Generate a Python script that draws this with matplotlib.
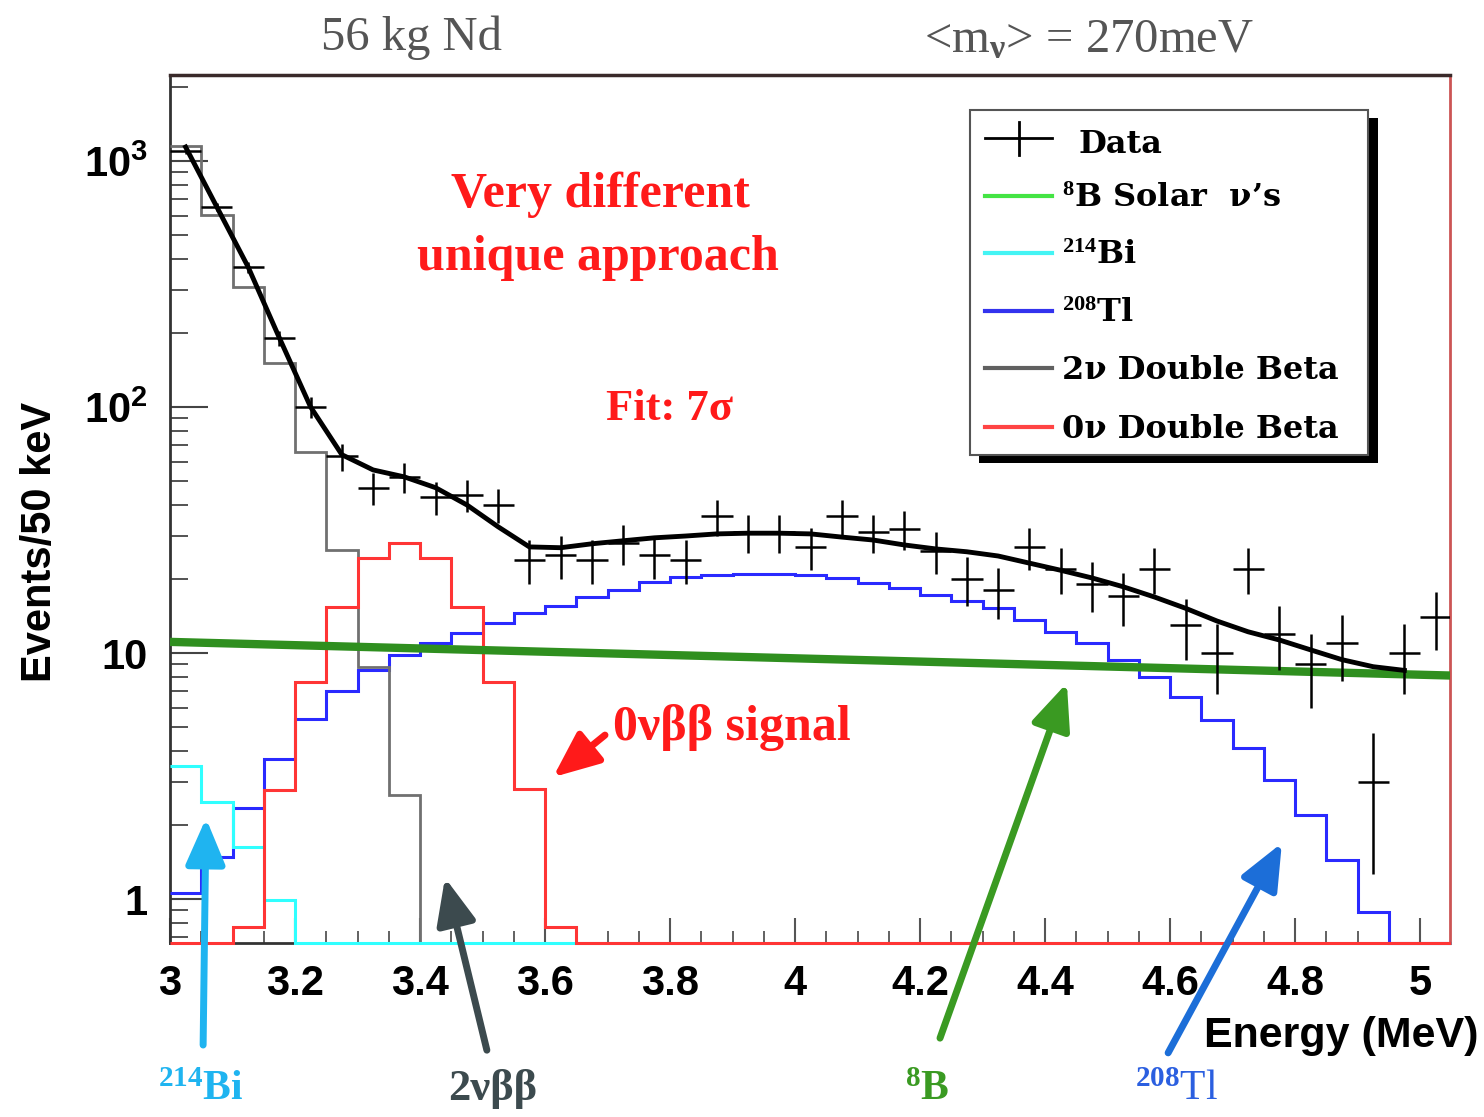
import numpy as np
import matplotlib
matplotlib.use("Agg")
import matplotlib.pyplot as plt
from matplotlib.patches import Rectangle
from matplotlib.lines import Line2D
from matplotlib.ticker import FixedLocator, MultipleLocator, LogLocator, FuncFormatter, NullFormatter

plt.rcParams["font.family"] = ["Liberation Sans", "DejaVu Sans"]
plt.rcParams["font.weight"] = "bold"
plt.rcParams["mathtext.fontset"] = "custom"
plt.rcParams["mathtext.rm"] = "Liberation Serif"
plt.rcParams["mathtext.it"] = "Liberation Serif:italic"
plt.rcParams["mathtext.bf"] = "Liberation Serif:bold"
plt.rcParams["mathtext.sf"] = "Liberation Sans:bold"

# ---- binning: 50 keV bins from 3.00 to 5.05 MeV ----
E_MIN = 3.0
BIN_W = 0.05
N_BINS = 41
edges = E_MIN + BIN_W * np.arange(N_BINS + 1)
centers = edges[:-1] + BIN_W / 2

# ---- observed spectrum (events / 50 keV) ----
data_counts = [1100, 650, 370, 190, 100, 63, 47, 52, 43, 44,
               40, 24, 25, 24, 28, 25, 24, 36, 31, 31,
               27, 36, 31, 32, 26, 20, 18, 27, 22, 19,
               17, 22, 13, 10, 22, 12, 9, 11, 3, 10, 14]

# ---- total fit, evaluated at bin centres ----
fit_total = [1140, 650, 371, 191, 100, 64, 55.5, 52, 47, 40,
             32.6, 27, 26.8, 27.8, 28.6, 29.4, 29.9, 30.5, 30.7, 30.7,
             30.5, 29.6, 28.8, 27.5, 26.5, 25.8, 24.8, 23.2, 21.7, 20.2,
             18.6, 16.9, 15.2, 13.5, 12.2, 11.3, 10.3, 9.4, 8.8, 8.5]

# ---- background and signal components ----
tl208 = [1.06, 1.48, 2.34, 3.71, 5.39, 7.0, 8.5, 9.8, 11.0, 12.1,
         13.2, 14.5, 15.6, 16.9, 18.0, 19.4, 20.4, 20.7, 21.0, 21.0,
         20.7, 20.2, 19.3, 18.4, 17.2, 16.3, 15.2, 13.6, 12.2, 11.0,
         9.4, 8.0, 6.6, 5.34, 4.11, 3.05, 2.19, 1.44, 0.885, 0, 0]

bi214 = [3.47, 2.48, 1.63, 0.99, 0, 0, 0, 0, 0, 0,
         0, 0, 0, 0, 0, 0, 0, 0, 0, 0,
         0, 0, 0, 0, 0, 0, 0, 0, 0, 0,
         0, 0, 0, 0, 0, 0, 0, 0, 0, 0, 0]

two_nu = [1150, 603, 307, 151, 65.5, 26.2, 8.8, 2.65, 0, 0,
          0, 0, 0, 0, 0, 0, 0, 0, 0, 0,
          0, 0, 0, 0, 0, 0, 0, 0, 0, 0,
          0, 0, 0, 0, 0, 0, 0, 0, 0, 0, 0]

zero_nu = [0, 0, 0.77, 2.77, 7.6, 15.4, 24.4, 28.0, 24.4, 15.4,
           7.6, 2.8, 0.77, 0, 0, 0, 0, 0, 0, 0,
           0, 0, 0, 0, 0, 0, 0, 0, 0, 0,
           0, 0, 0, 0, 0, 0, 0, 0, 0, 0, 0]

b8_energy = [3.0, 5.05]
b8_rate = [11.1, 8.1]

x_ticks = [3.0, 3.2, 3.4, 3.6, 3.8, 4.0, 4.2, 4.4, 4.6, 4.8, 5.0]
x_tick_labels = ["3", "3.2", "3.4", "3.6", "3.8", "4", "4.2", "4.4", "4.6", "4.8", "5"]
y_tick_labels = {1: "1", 10: "10", 100: r"$\mathsf{10^{2}}$", 1000: r"$\mathsf{10^{3}}$"}

Y_LO, Y_HI = 0.6627, 2237.0
X_LO, X_HI = 3.0, 5.048

# ---- figure ----
W, H = 1484, 1117
fig = plt.figure(figsize=(W / 100, H / 100), dpi=100)
AX_L, AX_R, AX_T, AX_B = 170, 1450, 75, 943
ax = fig.add_axes([AX_L / W, 1 - AX_B / H, (AX_R - AX_L) / W, (AX_B - AX_T) / H])
ax.set_yscale("log")
ax.set_xlim(X_LO, X_HI)
ax.set_ylim(Y_LO, Y_HI)


def fig_xy(px, py):
    return px / W, 1 - py / H


def ax_xy(px, py):
    return (px - AX_L) / (AX_R - AX_L), (AX_B - py) / (AX_B - AX_T)


def hist(values, color, lw, z):
    v = np.maximum(np.asarray(values, float), Y_LO)
    ax.stairs(v, edges, baseline=None, color=color, lw=lw, zorder=z, clip_on=False)


hist(tl208, "#2a2aff", 2.2, 3)
hist(two_nu, "#707070", 2.0, 3.1)
hist(bi214, "#30ffff", 2.2, 3.2)
hist(zero_nu, "#ff3535", 2.2, 3.3)

ax.plot(b8_energy, b8_rate, color="#2f8f1f", lw=6, zorder=4, solid_capstyle="butt")
ax.plot(centers[:len(fit_total)], fit_total, color="black", lw=3.5, zorder=5)
ax.errorbar(centers, data_counts, xerr=BIN_W / 2, yerr=np.sqrt(data_counts),
            fmt="none", ecolor="black", elinewidth=1.8, capsize=0, zorder=6)

# ---- axes styling ----
ax.spines["left"].set_color("#333333")
ax.spines["left"].set_linewidth(2)
ax.spines["bottom"].set_color("#333333")
ax.spines["bottom"].set_linewidth(2)
ax.spines["top"].set_color("#3a2a2a")
ax.spines["top"].set_linewidth(2.5)
ax.spines["right"].set_color("#cc5555")
ax.spines["right"].set_linewidth(2)

ax.xaxis.set_major_locator(FixedLocator(x_ticks))
ax.set_xticklabels(x_tick_labels)
ax.xaxis.set_minor_locator(MultipleLocator(0.05))
ax.yaxis.set_major_locator(LogLocator(base=10))
ax.yaxis.set_minor_locator(LogLocator(base=10, subs=np.arange(2, 10)))
ax.yaxis.set_major_formatter(FuncFormatter(lambda v, p: y_tick_labels.get(int(round(v)), "")))
ax.yaxis.set_minor_formatter(NullFormatter())

ax.tick_params(axis="x", which="major", direction="in", length=18, width=1.5,
               color="#555555", pad=15, labelsize=30)
ax.tick_params(axis="x", which="minor", direction="in", length=9, width=1.3, color="#555555")
ax.tick_params(axis="y", which="major", direction="in", length=27, width=1.5,
               color="#444444", pad=16, labelsize=30)
ax.tick_params(axis="y", which="minor", direction="in", length=13, width=1.3, color="#444444")
ax.tick_params(top=False, right=False, which="both")

fig.text(*fig_xy(40, 542), "Events/50 keV", rotation=90, ha="center", va="center",
         fontsize=30, fontweight="bold")
fig.text(*fig_xy(1478, 1036), "Energy (MeV)", ha="right", va="center",
         fontsize=31, fontweight="bold")

# ---- header ----
fig.text(*fig_xy(411, 50), "56 kg Nd", ha="center", va="baseline", fontsize=35,
         family="Liberation Serif", fontweight="normal", color="#555555")
fig.text(*fig_xy(1089, 52), r"<m$_{\mathrm{\nu}}$> = 270meV", ha="center", va="baseline",
         fontsize=35, family="Liberation Serif", fontweight="normal", color="#555555")

# ---- red annotations ----
red = "#ff1a1a"
fig.text(*fig_xy(600, 207), "Very different", ha="center", va="baseline", fontsize=36,
         family="Liberation Serif", fontweight="bold", color=red)
fig.text(*fig_xy(598, 270), "unique approach", ha="center", va="baseline", fontsize=36,
         family="Liberation Serif", fontweight="bold", color=red)
fig.text(*fig_xy(669, 420), "Fit: 7σ", ha="center", va="baseline", fontsize=32,
         family="Liberation Serif", fontweight="bold", color=red)
fig.text(*fig_xy(613, 740), "0νββ signal", ha="left", va="baseline", fontsize=36,
         family="Liberation Serif", fontweight="bold", color=red)


def arrow(head, tail, color):
    ax.annotate("", xy=head, xytext=tail, xycoords="data", textcoords="data",
                annotation_clip=False, zorder=8,
                arrowprops=dict(arrowstyle="-|>,head_length=1.4,head_width=0.6",
                                mutation_scale=20, lw=5, color=color,
                                shrinkA=0, shrinkB=0))


arrow((3.613, 3.13), (3.696, 4.64), red)
arrow((3.0576, 2.13), (3.053, 0.255), "#1fb4f0")
arrow((3.44, 1.22), (3.507, 0.243), "#3c4a4e")
arrow((4.435, 7.55), (4.232, 0.272), "#3a9a22")
arrow((4.779, 1.69), (4.597, 0.237), "#1c6ed8")

# ---- component labels under the axis ----
fig.text(*fig_xy(201, 1100), r"$^{\mathbf{214}}$Bi", ha="center", va="baseline", fontsize=30,
         family="Liberation Serif", fontweight="bold", color="#1fb4f0")
fig.text(*fig_xy(493, 1100), "2νββ", ha="center", va="baseline", fontsize=32,
         family="Liberation Serif", fontweight="bold", color="#3c4a4e")
fig.text(*fig_xy(927, 1100), r"$^{\mathbf{8}}$B", ha="center", va="baseline", fontsize=30,
         family="Liberation Serif", fontweight="bold", color="#3a9a22")
fig.text(*fig_xy(1177, 1100), r"$^{\mathrm{208}}$Tl", ha="center", va="baseline", fontsize=30,
         family="Liberation Serif", fontweight="normal", color="#2b5fe0")

# ---- legend box ----
sx0, sy0 = ax_xy(979, 463)
sx1, sy1 = ax_xy(1378, 118)
ax.add_patch(Rectangle((sx0, sy0), sx1 - sx0, sy1 - sy0, transform=ax.transAxes,
                       facecolor="black", edgecolor="none", zorder=9, clip_on=False))
bx0, by0 = ax_xy(970, 455)
bx1, by1 = ax_xy(1368, 110)
ax.add_patch(Rectangle((bx0, by0), bx1 - bx0, by1 - by0, transform=ax.transAxes,
                       facecolor="white", edgecolor="#555555", lw=1.5, zorder=10, clip_on=False))

hx0, _ = ax_xy(985, 0)
hx1, _ = ax_xy(1052, 0)
# data cross
cy = ax_xy(0, 138)[1]
ax.add_line(Line2D([hx0, hx1], [cy, cy], transform=ax.transAxes, color="black", lw=2, zorder=11))
cx = ax_xy(1019, 0)[0]
ax.add_line(Line2D([cx, cx], [ax_xy(0, 155)[1], ax_xy(0, 122)[1]], transform=ax.transAxes,
                   color="black", lw=2, zorder=11))
leg_font = dict(family="DejaVu Serif", fontweight="bold", fontsize=23, color="black",
                transform=ax.transAxes, zorder=11, va="baseline", ha="left")
ax.text(*ax_xy(1078, 153), "Data", **leg_font)

legend_rows = [
    (r"$^{\mathbf{8}}$B Solar  ν’s", "#44e444", 196),
    (r"$^{\mathbf{214}}$Bi", "#44f4f4", 253),
    (r"$^{\mathbf{208}}$Tl", "#3333ee", 311),
    ("2ν Double Beta", "#606060", 368),
    ("0ν Double Beta", "#ff4444", 427),
]
for label, color, py in legend_rows:
    yy = ax_xy(0, py)[1]
    ax.add_line(Line2D([hx0, hx1], [yy, yy], transform=ax.transAxes, color=color,
                       lw=3, zorder=11))
    ax.text(*ax_xy(1062, py + 11), label, **leg_font)

fig.savefig("out.png", dpi=100)
